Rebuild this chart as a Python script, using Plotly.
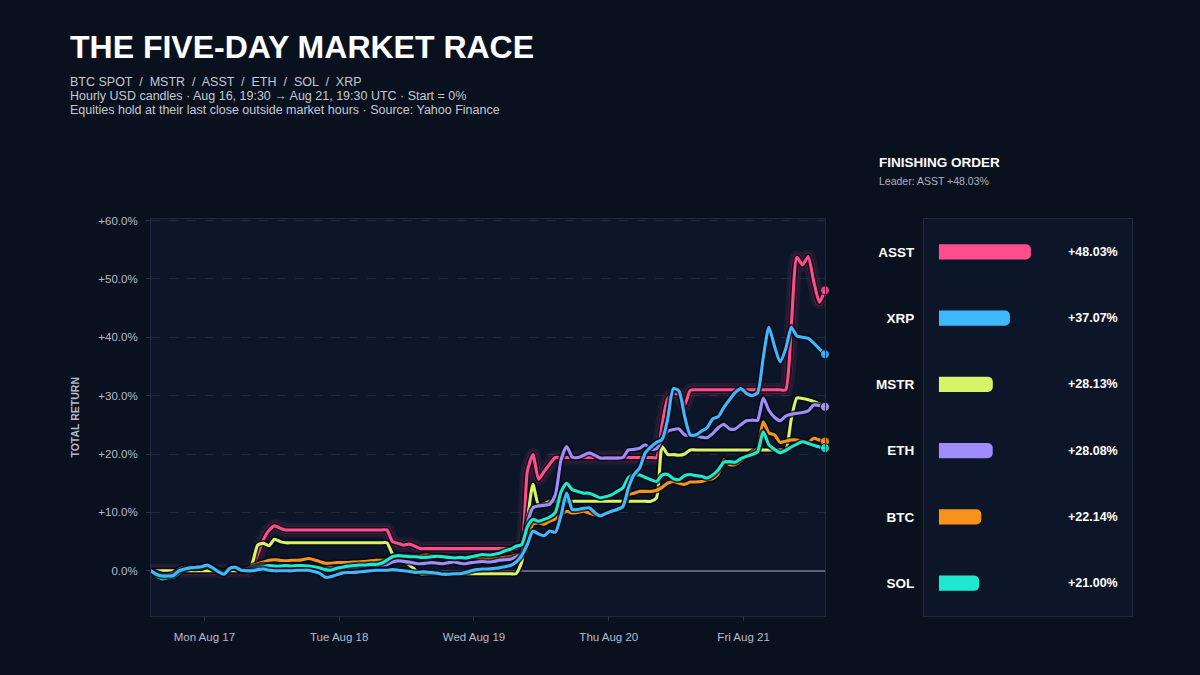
import pandas as pd
import plotly.graph_objects as go

W, H = 1200, 675
FONT = "Liberation Sans, Arial, Helvetica, sans-serif"
BG = "#0a111e"
PANEL = "#0c1628"
BORDER = "#1d2940"

# hourly candles, Aug 16 19:30 -> Aug 21 19:30 UTC (121 points)
times = pd.date_range("2026-08-16 19:30", periods=121, freq="h")

asst = [
    0.0, 0.0, 0.0, 0.0, 0.0, 0.0, 0.0, 0.0, 0.0, 0.0, 0.0, 0.0,
    0.0, 0.0, 0.0, 0.0, 0.0, 0.0, 0.6, 2.8, 5.3, 6.9, 7.7, 7.3,
    7.0, 7.0, 7.0, 7.0, 7.0, 7.0, 7.0, 7.0, 7.0, 7.0, 7.0, 7.0,
    7.0, 7.0, 7.0, 7.0, 7.0, 7.0, 7.0, 5.0, 4.7, 4.4, 4.6, 4.2,
    3.8, 3.8, 3.8, 3.8, 3.8, 3.8, 3.8, 3.8, 3.8, 3.8, 3.8, 3.8,
    3.8, 3.8, 3.8, 3.8, 3.8, 3.8, 4.5, 17.0, 19.9, 15.7, 17.0, 18.3,
    19.4, 19.4, 19.4, 19.4, 19.4, 19.4, 19.4, 19.4, 19.4, 19.4, 19.4, 19.4,
    19.4, 19.4, 19.4, 19.4, 19.4, 19.4, 19.4, 25.0, 29.5, 30.3, 30.2, 28.4,
    30.9, 31.0, 31.0, 31.0, 31.0, 31.0, 31.0, 31.0, 31.0, 31.0, 31.0, 31.0,
    31.0, 31.0, 31.0, 31.0, 31.0, 31.0, 42.0, 53.7, 52.4, 53.8, 49.5, 46.0,
    48.03,
]
mstr = [
    0.0, 0.0, 0.0, 0.0, 0.0, 0.0, 0.0, 0.0, 0.0, 0.0, 0.0, 0.0,
    0.0, 0.0, 0.0, 0.0, 0.0, 0.0, 1.2, 4.4, 4.7, 4.3, 5.4, 5.0,
    4.8, 4.8, 4.8, 4.8, 4.8, 4.8, 4.8, 4.8, 4.8, 4.8, 4.8, 4.8,
    4.8, 4.8, 4.8, 4.8, 4.8, 4.8, 4.8, 2.9, 2.2, 1.8, 1.0, 0.2,
    -0.5, -0.5, -0.5, -0.5, -0.5, -0.5, -0.5, -0.5, -0.5, -0.5, -0.5, -0.5,
    -0.5, -0.5, -0.5, -0.5, -0.5, -0.5, 1.5, 8.5, 14.8, 11.3, 11.5, 11.9,
    11.9, 11.9, 11.9, 11.9, 11.9, 11.9, 11.9, 11.9, 11.9, 11.9, 11.9, 11.9,
    11.9, 11.9, 11.9, 11.9, 11.9, 11.9, 12.5, 21.3, 19.9, 19.9, 19.8, 20.0,
    20.7, 20.7, 20.7, 20.7, 20.7, 20.7, 20.7, 20.7, 20.7, 20.7, 20.7, 20.7,
    20.7, 20.7, 20.7, 20.7, 20.7, 20.7, 26.0, 29.6, 29.5, 29.3, 29.0, 28.6,
    28.13,
]
btc = [
    0.0, -0.5, -0.8, -0.8, -0.7, 0.2, 0.6, 0.6, 0.7, 0.5, 1.0, 0.6,
    0.0, -0.3, 0.6, 0.5, 0.1, 0.4, 0.8, 1.2, 1.5, 1.8, 1.9, 1.8,
    1.7, 1.8, 1.8, 1.9, 2.1, 1.9, 1.6, 1.3, 1.3, 1.4, 1.4, 1.4,
    1.5, 1.5, 1.6, 1.7, 1.8, 1.8, 2.0, 2.4, 2.5, 2.6, 2.6, 2.5,
    2.6, 2.7, 2.6, 2.5, 2.4, 2.3, 2.3, 2.2, 2.2, 2.3, 2.2, 2.1,
    2.1, 2.2, 2.2, 2.3, 2.4, 2.7, 2.9, 5.5, 8.0, 8.2, 8.0, 8.5,
    8.9, 9.6, 10.2, 9.9, 10.0, 10.2, 9.9, 9.6, 9.5, 9.9, 10.2, 10.4,
    10.8, 13.0, 13.3, 13.6, 13.6, 13.6, 13.8, 14.3, 15.0, 15.3, 15.0, 14.8,
    15.2, 15.2, 15.3, 15.6, 15.8, 16.6, 19.0, 18.2, 18.2, 18.8, 19.6, 20.2,
    21.0, 25.5, 23.6, 23.3, 22.0, 22.2, 22.4, 22.4, 22.2, 22.0, 22.7, 22.4,
    22.14,
]
eth = [
    0.0, -0.4, -0.7, -0.7, -0.5, 0.3, 0.6, 0.7, 0.6, 0.8, 0.9, 0.5,
    0.1, -0.2, 0.5, 0.7, 0.4, 0.3, 0.5, 0.8, 1.0, 0.9, 0.8, 0.8,
    0.9, 0.8, 0.9, 0.9, 0.8, 0.6, 0.5, 0.4, 0.5, 0.6, 0.6, 0.5,
    0.6, 0.7, 0.8, 0.9, 0.9, 1.0, 1.1, 1.5, 1.7, 1.6, 1.5, 1.3,
    1.2, 1.3, 1.4, 1.3, 1.2, 1.4, 1.5, 1.3, 1.2, 1.4, 1.5, 1.6,
    1.5, 1.6, 1.8, 1.9, 2.0, 2.4, 3.0, 8.0, 10.8, 11.1, 11.2, 11.4,
    13.0, 19.0, 21.3, 19.5, 19.4, 19.8, 20.2, 19.8, 19.3, 19.3, 19.3, 19.3,
    19.4, 20.7, 20.8, 21.0, 21.6, 20.8, 20.9, 22.5, 23.9, 24.2, 24.3, 23.3,
    23.2, 23.1, 22.9, 22.8, 23.5, 24.5, 25.1, 24.3, 24.3, 25.0, 25.7, 25.8,
    25.8, 29.6, 27.5, 26.3, 25.7, 26.5, 26.8, 27.0, 27.1, 27.4, 28.4, 28.3,
    28.08,
]
sol = [
    0.0, -0.9, -1.4, -1.2, -1.1, -0.4, 0.3, 0.5, 0.5, 0.6, 0.8, 0.4,
    0.0, -0.4, 0.4, 0.6, 0.2, 0.0, 0.2, 0.5, 0.7, 0.9, 0.8, 0.8,
    0.9, 0.8, 0.9, 0.9, 0.8, 0.7, 0.5, 0.2, 0.1, 0.4, 0.6, 0.8,
    0.9, 1.0, 1.0, 1.1, 1.1, 1.3, 1.8, 2.4, 2.6, 2.5, 2.4, 2.4,
    2.3, 2.3, 2.4, 2.5, 2.4, 2.3, 2.2, 2.3, 2.2, 2.4, 2.6, 2.8,
    2.7, 2.8, 3.0, 3.4, 3.7, 4.2, 4.5, 7.5, 8.8, 8.5, 8.8, 9.2,
    10.0, 13.5, 15.0, 13.9, 13.6, 13.3, 13.3, 12.9, 12.5, 12.7, 13.0, 13.6,
    14.2, 16.0, 16.4, 16.4, 16.0, 15.6, 15.3, 16.4, 16.5, 15.8, 15.6, 16.3,
    16.5, 16.3, 16.2, 15.9, 16.4, 17.3, 18.6, 18.7, 18.6, 19.2, 19.6, 19.9,
    20.4, 23.8, 21.6, 20.8, 20.2, 20.6, 21.2, 21.7, 22.1, 21.8, 21.5, 21.2,
    21.00,
]
xrp = [
    0.0, -0.6, -0.9, -0.9, -0.8, 0.0, 0.3, 0.5, 0.6, 0.7, 1.0, 0.5,
    -0.2, -0.6, 0.4, 0.6, 0.1, 0.0, 0.0, 0.2, 0.3, 0.1, 0.0, 0.0,
    0.0, 0.0, 0.1, 0.1, 0.1, -0.1, -0.4, -1.1, -1.0, -0.7, -0.4, -0.3,
    -0.3, -0.2, -0.1, 0.0, 0.1, 0.1, 0.1, 0.2, 0.1, 0.0, -0.1, -0.3,
    -0.2, -0.2, -0.3, -0.4, -0.6, -0.6, -0.5, -0.5, -0.3, 0.0, 0.2, 0.3,
    0.3, 0.4, 0.5, 0.7, 0.9, 1.5, 2.6, 4.5, 6.8, 6.3, 6.0, 6.8,
    6.6, 9.5, 13.3, 10.5, 10.5, 10.7, 10.8, 10.0, 9.4, 9.8, 10.2, 10.5,
    11.0, 14.2, 16.5, 17.6, 20.2, 21.2, 22.0, 22.5, 26.0, 31.2, 30.8, 26.5,
    23.3, 23.3, 23.9, 24.5, 26.0, 26.4, 28.0, 29.3, 30.5, 31.2, 30.4, 30.0,
    30.5, 36.5, 41.7, 38.5, 35.8, 38.0, 41.7, 40.2, 40.0, 39.8, 39.0, 38.0,
    37.07,
]

# drawing order: first is at the bottom
series = {
    "ASST": (asst, "#ff4d8d"),
    "MSTR": (mstr, "#d8f26a"),
    "BTC": (btc, "#f7931a"),
    "ETH": (eth, "#a08cff"),
    "SOL": (sol, "#1de9cf"),
    "XRP": (xrp, "#3fb8ff"),
}

y_ticks = [0, 10, 20, 30, 40, 50, 60]
y_tick_labels = ["0.0%", "+10.0%", "+20.0%", "+30.0%", "+40.0%", "+50.0%", "+60.0%"]
day_ticks = ["2026-08-17 05:00", "2026-08-18 05:00", "2026-08-19 05:00",
             "2026-08-20 05:00", "2026-08-21 05:00"]
day_labels = ["Mon Aug 17", "Tue Aug 18", "Wed Aug 19", "Thu Aug 20", "Fri Aug 21"]

fig = go.Figure()

# glow behind the leader
for w, a in [(14, 0.09), (8, 0.18)]:
    fig.add_trace(go.Scatter(
        x=times, y=asst, mode="lines", hoverinfo="skip", showlegend=False,
        line=dict(color=f"rgba(255,77,141,{a})", width=w, shape="spline", smoothing=0.6),
    ))

for name, (vals, color) in series.items():
    # dark casing so crossing lines stay readable
    fig.add_trace(go.Scatter(
        x=times, y=vals, mode="lines", hoverinfo="skip", showlegend=False,
        line=dict(color="rgba(5,9,18,0.75)", width=6.5, shape="spline", smoothing=0.6),
    ))
    fig.add_trace(go.Scatter(
        x=times, y=vals, mode="lines", name=name, showlegend=False,
        line=dict(color=color, width=3.1, shape="spline", smoothing=0.6),
    ))

for name, (vals, color) in series.items():
    fig.add_trace(go.Scatter(
        x=[times[-1]], y=[vals[-1]], mode="markers", showlegend=False, hoverinfo="skip",
        cliponaxis=False,
        marker=dict(size=9, color=color, opacity=0.85, line=dict(color=BG, width=1)),
    ))

# finishing order panel
finish = sorted(((vals[-1], name, color) for name, (vals, color) in series.items()), reverse=True)
bar_names = [f[1] for f in finish]
bar_vals = [f[0] for f in finish]
bar_colors = [f[2] for f in finish]

fig.add_trace(go.Bar(
    x=bar_vals, y=bar_names, orientation="h", xaxis="x2", yaxis="y2",
    width=0.23, showlegend=False, hoverinfo="skip",
    marker=dict(color=bar_colors, cornerradius=5, line=dict(width=0)),
))

annotations = [
    dict(text="<b>THE FIVE-DAY MARKET RACE</b>", x=68 / W, y=1 - 43 / H, xref="paper", yref="paper",
         xanchor="left", yanchor="middle", showarrow=False, font=dict(size=32, color="#ffffff")),
    dict(text="BTC SPOT  /  MSTR  /  ASST  /  ETH  /  SOL  /  XRP", x=68 / W, y=1 - 78 / H,
         xref="paper", yref="paper", xanchor="left", yanchor="middle", showarrow=False,
         font=dict(size=12.5, color="#c3c9d3")),
    dict(text="Hourly USD candles · Aug 16, 19:30 → Aug 21, 19:30 UTC · Start = 0%", x=68 / W,
         y=1 - 92.5 / H, xref="paper", yref="paper", xanchor="left", yanchor="middle",
         showarrow=False, font=dict(size=12.5, color="#c3c9d3")),
    dict(text="Equities hold at their last close outside market hours · Source: Yahoo Finance",
         x=68 / W, y=1 - 107 / H, xref="paper", yref="paper", xanchor="left", yanchor="middle",
         showarrow=False, font=dict(size=12.5, color="#c3c9d3")),
    dict(text="<b>FINISHING ORDER</b>", x=877 / W, y=1 - 159 / H, xref="paper", yref="paper",
         xanchor="left", yanchor="middle", showarrow=False, font=dict(size=13.5, color="#ffffff")),
    dict(text=f"Leader: {bar_names[0]} +{bar_vals[0]:.2f}%", x=877 / W, y=1 - 178 / H,
         xref="paper", yref="paper", xanchor="left", yanchor="middle", showarrow=False,
         font=dict(size=10.5, color="#aab2bf")),
    dict(text="<b>TOTAL RETURN</b>", x=75 / W, y=1 - 416 / H, xref="paper", yref="paper",
         textangle=-90, xanchor="center", yanchor="middle", showarrow=False,
         font=dict(size=10.5, color="#b4bccb")),
]
for name, v in zip(bar_names, bar_vals):
    annotations.append(dict(
        text=f"<b>+{v:.2f}%</b>", x=1120 / W, y=name, xref="paper", yref="y2",
        xanchor="right", yanchor="middle", showarrow=False,
        font=dict(size=12.5, color="#ffffff"),
    ))

fig.update_layout(
    width=W, height=H,
    margin=dict(l=0, r=0, t=0, b=0),
    paper_bgcolor=BG, plot_bgcolor=PANEL,
    font=dict(family=FONT, color="#b4bccb"),
    showlegend=False,
    annotations=annotations,
    xaxis=dict(
        domain=[151 / W, 825 / W], type="date",
        range=[times[0], times[-1]],
        tickvals=day_ticks, ticktext=day_labels,
        showgrid=False, zeroline=False,
        ticks="outside", ticklen=4, tickcolor="#2a3650",
        ticklabelstandoff=6,
        tickfont=dict(size=11.5, color="#b4bccb"),
        showline=True, mirror=True, linecolor=BORDER, linewidth=1,
    ),
    yaxis=dict(
        domain=[1 - 616 / H, 1 - 216 / H],
        range=[-7.8, 60.3],
        tickvals=y_ticks, ticktext=y_tick_labels,
        showgrid=True, gridcolor="#1f2a3d", griddash="dash", gridwidth=1,
        zeroline=True, zerolinecolor="#5b6579", zerolinewidth=1.5,
        ticks="outside", ticklen=4, tickcolor="#2a3650",
        ticklabelstandoff=6,
        tickfont=dict(size=11.5, color="#b4bccb"),
        showline=True, mirror=True, linecolor=BORDER, linewidth=1,
    ),
    xaxis2=dict(
        domain=[924 / W, 1132 / W], anchor="y2",
        range=[-7.8, 100.8],
        showgrid=False, zeroline=False, showticklabels=False,
        showline=True, mirror=True, linecolor=BORDER, linewidth=1,
    ),
    yaxis2=dict(
        domain=[1 - 616 / H, 1 - 216 / H], anchor="x2",
        categoryorder="array", categoryarray=bar_names,
        autorange="reversed",
        showgrid=False, zeroline=False, ticks="",
        tickfont=dict(size=13.5, color="#ffffff", weight=700),
        ticklabelstandoff=6,
        showline=True, mirror=True, linecolor=BORDER, linewidth=1,
    ),
)

# drop the browser's default body margin so the 1200x675 figure fills the window
fig.write_html(
    "out.html",
    config={"displayModeBar": False},
    post_script="document.body.style.margin='0';",
)
